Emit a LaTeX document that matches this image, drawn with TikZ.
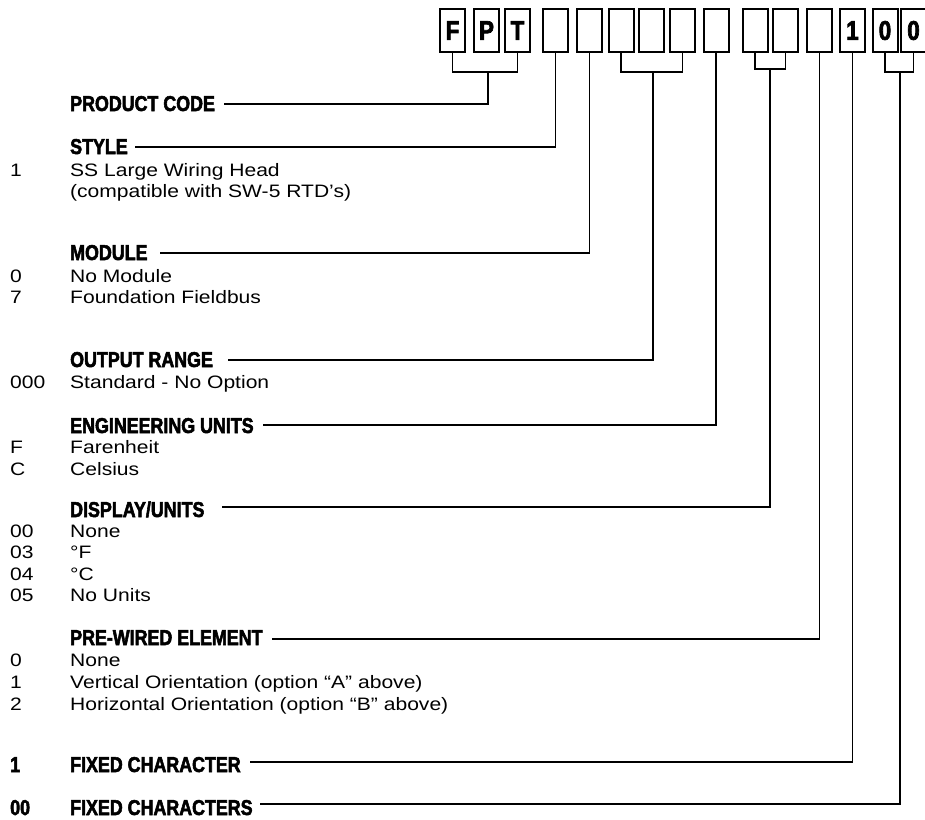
\documentclass[tikz,border=0pt]{standalone}
\usepackage{fontspec}
\setmainfont{Liberation Sans}[FakeStretch=1.17]
\newfontfamily\headfont{Liberation Sans}[FakeStretch=0.83,BoldFeatures={FakeBold=2.5}]
\begin{document}
\begin{tikzpicture}[x=1pt,y=-1pt,
  cbox/.style={draw,line width=2pt,minimum width=25pt,minimum height=43pt,inner sep=0pt,
    font=\headfont\bfseries\fontsize{27}{27}\selectfont},
  head/.style={anchor=base west,inner sep=0pt,font=\headfont\bfseries\fontsize{21.5}{24}\selectfont},
  body/.style={anchor=base west,inner sep=0pt,font=\fontsize{18}{21}\selectfont},
  conn/.style={line width=1.8pt}]
\useasboundingbox (0,0) rectangle (925,819);
% code boxes
\node[cbox] (b1) at (452.5,30.5) {F};
\node[cbox] (b2) at (486.5,30.5) {P};
\node[cbox] (b3) at (517.5,30.5) {T};
\node[cbox] (b4) at (555.5,30.5) {};
\node[cbox] (b5) at (589.5,30.5) {};
\node[cbox] (b6) at (621,30.5) {};
\node[cbox] (b7) at (651.5,30.5) {};
\node[cbox] (b8) at (682.5,30.5) {};
\node[cbox] (b9) at (716,30.5) {};
\node[cbox] (b10) at (755,30.5) {};
\node[cbox] (b11) at (785.5,30.5) {};
\node[cbox] (b12) at (819.5,30.5) {};
\node[cbox] (b13) at (852.5,30.5) {1};
\node[cbox] (b14) at (885,30.5) {0};
\node[cbox] (b15) at (913.5,30.5) {0};
% bracket joints
\coordinate (j1) at (488,72);
\coordinate (j2) at (653,72);
\coordinate (j3) at (770,69);
\coordinate (j4) at (900,72);
% line ends at the labels
\coordinate (lPC) at (224,104);
\coordinate (lST) at (135,147);
\coordinate (lMO) at (160,253);
\coordinate (lOR) at (228,360);
\coordinate (lEU) at (263,425);
\coordinate (lDU) at (222,507);
\coordinate (lPW) at (272,639);
\coordinate (lFC) at (250,762);
\coordinate (lFS) at (260,804);
% connectors
\draw[conn] (b1.south) |- (j1) -| (b3.south);
\draw[conn] (j1) |- (lPC);
\draw[conn] (b4.south) |- (lST);
\draw[conn] (b5.south) |- (lMO);
\draw[conn] (b6.south) |- (j2) -| (b8.south);
\draw[conn] (j2) |- (lOR);
\draw[conn] (b9.south) |- (lEU);
\draw[conn] (b10.south) |- (j3) -| (b11.south);
\draw[conn] (j3) |- (lDU);
\draw[conn] (b12.south) |- (lPW);
\draw[conn] (b13.south) |- (lFC);
\draw[conn] (b14.south) |- (j4) -| (b15.south);
\draw[conn] (j4) |- (lFS);
% headings
\node[head] (hPC) at (70,111) {PRODUCT CODE};
\node[head] (hST) at (70,154) {STYLE};
\node[head] (hMO) at (70,260) {MODULE};
\node[head] (hOR) at (70,367) {OUTPUT RANGE};
\node[head] (hEU) at (70,433) {ENGINEERING UNITS};
\node[head] (hDU) at (70,517) {DISPLAY/UNITS};
\node[head] (hPW) at (70,645) {PRE-WIRED ELEMENT};
\node[head] (hFC) at (70,772) {FIXED CHARACTER};
\node[head] (hFS) at (70,815) {FIXED CHARACTERS};
\node[head] (nFC) at (10,772) {1};
\node[head] (nFS) at (10,815) {00};
% options
\node[body] (n1) at (10,176) {1};
\node[body] (t1) at (70,176) {SS Large Wiring Head};
\node[body] (t1b) at (70,197) {(compatible with SW-5 RTD’s)};
\node[body] (n2) at (10,282) {0};
\node[body] (t2) at (70,282) {No Module};
\node[body] (n3) at (10,303) {7};
\node[body] (t3) at (70,303) {Foundation Fieldbus};
\node[body] (n4) at (10,388) {000};
\node[body] (t4) at (70,388) {Standard - No Option};
\node[body] (n5) at (10,453) {F};
\node[body] (t5) at (70,453) {Farenheit};
\node[body] (n6) at (10,475) {C};
\node[body] (t6) at (70,475) {Celsius};
\node[body] (n7) at (10,537) {00};
\node[body] (t7) at (70,537) {None};
\node[body] (n8) at (10,558) {03};
\node[body] (t8) at (70,558) {°F};
\node[body] (n9) at (10,580) {04};
\node[body] (t9) at (70,580) {°C};
\node[body] (n10) at (10,601) {05};
\node[body] (t10) at (70,601) {No Units};
\node[body] (n11) at (10,666) {0};
\node[body] (t11) at (70,666) {None};
\node[body] (n12) at (10,688) {1};
\node[body] (t12) at (70,688) {Vertical Orientation (option “A” above)};
\node[body] (n13) at (10,710) {2};
\node[body] (t13) at (70,710) {Horizontal Orientation (option “B” above)};
\end{tikzpicture}
\end{document}
